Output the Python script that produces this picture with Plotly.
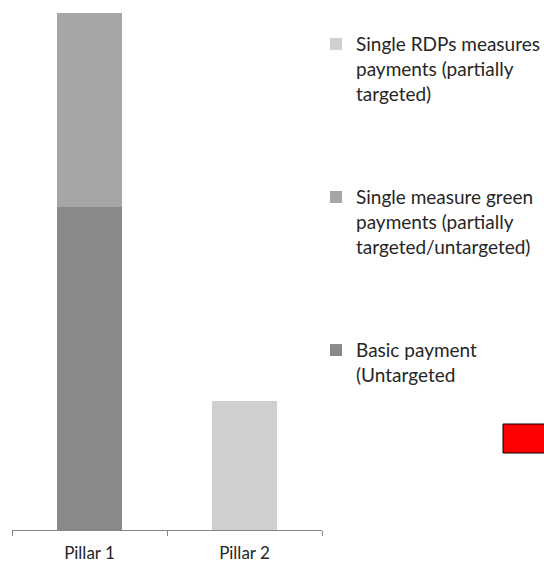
import plotly.graph_objects as go

categories = ["Pillar 1", "Pillar 2"]
basic_payment = [25, 0]
green_payments = [15, 0]
rdp_payments = [0, 10]

series_names = [
    "Basic payment<br>(Untargeted",
    "Single measure green<br>payments (partially<br>targeted/untargeted)",
    "Single RDPs measures<br>payments (partially<br>targeted)",
]
series_colors = ["#898989", "#a6a6a6", "#cfcfcf"]
legend_ranks = [3, 2, 1]

W, H = 544, 565
ml, mr, mt, mb = 12, 222, 13, 35
pw, ph = W - ml - mr, H - mt - mb

def px_x(p):
    return (p - ml) / pw

def px_y(p):
    return (H - mb - p) / ph

fig = go.Figure()
for name, vals, col, rk in zip(series_names, [basic_payment, green_payments, rdp_payments],
                               series_colors, legend_ranks):
    fig.add_trace(go.Bar(
        x=categories, y=vals, name=name, marker_color=col,
        marker_line_width=0, legendgroup=name, legendrank=rk,
    ))

fig.update_layout(
    width=W, height=H,
    margin=dict(l=ml, r=mr, t=mt, b=mb, autoexpand=False),
    barmode="stack", bargap=0.587,
    plot_bgcolor="white", paper_bgcolor="white",
    font=dict(family="Lato, Open Sans, sans-serif", color="#262626"),
    showlegend=True,
    legend=dict(
        x=px_x(316), y=px_y(25), xanchor="left", yanchor="top",
        traceorder="grouped", tracegroupgap=76,
        font=dict(size=19, color="#262626"), valign="top",
        itemwidth=30, bgcolor="rgba(0,0,0,0)",
    ),
    xaxis=dict(
        showline=True, linecolor="#878787", linewidth=1,
        ticks="outside", tickson="boundaries", ticklen=5, tickcolor="#878787",
        tickfont=dict(size=17, color="#262626"), showgrid=False,
        ticklabelstandoff=8,
    ),
    yaxis=dict(range=[0, 40], visible=False, showgrid=False),
    shapes=[dict(
        type="rect", xref="paper", yref="paper",
        x0=px_x(503), x1=px_x(552), y0=px_y(453), y1=px_y(424),
        fillcolor="#ff0000", line=dict(color="#000000", width=1),
    )],
)

fig.write_html("out.html", config={"displayModeBar": False},
               post_script="document.body.style.margin='0';document.body.style.overflow='hidden';")
